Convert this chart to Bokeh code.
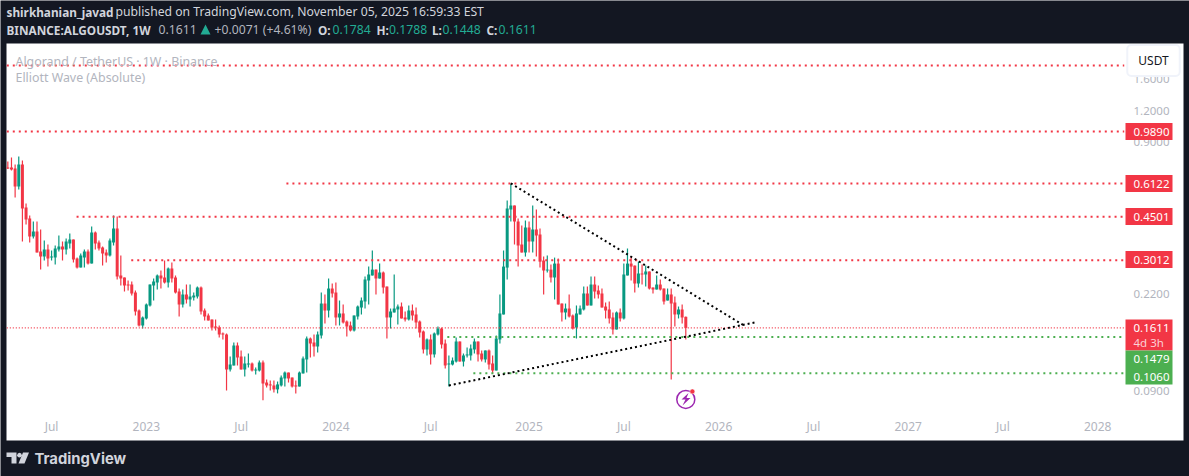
import pandas as pd
from bokeh.embed import file_html
from bokeh.models import (BoxAnnotation, ColumnDataSource, FixedTicker, Label, LinearAxis, LogAxis,
                          PolyAnnotation, PrintfTickFormatter, Range1d)
from bokeh.plotting import figure
from bokeh.resources import INLINE

# weekly ALGOUSDT candles
opens = [.7091,.7091,.7026,.5951,.729,.4902,.4427,.3747,.3924,.326,
         .3113,.3322,.3084,.3084,.3322,.3415,.3322,.3511,.3644,.3056,
         .2812,.3084,.326,.2918,.3888,.3544,.3384,.323,.3142,.3544,
         .4035,.2614,.2566,.2404,.2404,.2233,.1891,.1647,.1757,.1981,
         .2382,.2449,.2614,.2566,.2449,.2786,.2566,.2254,.1999,.2193,
         .2094,.2133,.2152,.2339,.1891,.1806,.1741,.1631,.1616,.1529,
         .1515,.1096,.1138,.1369,.1237,.1096,.1148,.1159,.1086,.1086,
         .117,.0972,.0955,.0946,.0912,.0946,.1009,.1066,.1018,.0946,
         .0937,.1057,.1203,.146,.1407,.1356,.1501,.2017,.1891,.2317,
         .2233,.1773,.184,.1708,.1647,.1572,.1789,.1944,.2055,.2495,
         .2614,.276,.2542,.2687,.236,.1773,.1857,.1909,.1962,.1773,
         .1741,.1891,.1823,.1708,.1558,.1319,.1447,.126,.1515,.1601,
         .1394,.1148,.1148,.118,.142,.118,.1248,.1248,.1319,.142,
         .1271,.1203,.1307,.1159,.1086,.1447,.1823,.2812,.4812,.4994,
         .4305,.3479,.323,.4073,.3577,.3998,.3817,.30,.2737,.276,
         .2566,.2918,.2017,.1857,.1926,.1806,.1616,.1823,.1909,.2213,
         .1981,.2404,.2275,.2213,.1962,.1909,.1773,.1587,.1857,.1757,
         .2614,.2918,.2864,.2427,.2662,.2638,.2712,.2339,.2296,.2404,
         .2317,.2074,.2193,.2036,.1823,.1909,.1784]
closes = [.7026,.6961,.5951,.729,.4857,.4386,.3747,.3924,.323,.3113,
          .3322,.3056,.3113,.3353,.3415,.3322,.3577,.3644,.3028,.2812,
          .3142,.326,.2918,.3888,.3511,.3353,.32,.3142,.361,.4035,
          .259,.2542,.2382,.2382,.2213,.1874,.1647,.1773,.1999,.2404,
          .2472,.2614,.2542,.2449,.2786,.2542,.2233,.1999,.2193,.2094,
          .2152,.2172,.2339,.1874,.1789,.1724,.1616,.1616,.1515,.1515,
          .1096,.1148,.1369,.1225,.1096,.1159,.1159,.1086,.1096,.117,
          .0963,.0946,.0946,.0912,.0955,.1018,.1066,.1009,.0937,.0937,
          .1066,.1214,.146,.1394,.1356,.1515,.2017,.1891,.2317,.2213,
          .1773,.184,.1693,.1631,.1572,.1806,.1962,.2074,.2519,.2638,
          .276,.2542,.2687,.2339,.1773,.1874,.1926,.1962,.1757,.1741,
          .1891,.1806,.1693,.1543,.1319,.1447,.126,.1529,.1601,.1381,
          .1138,.1159,.1191,.142,.118,.1248,.126,.1331,.142,.126,
          .1203,.1307,.1148,.1086,.146,.184,.2838,.4857,.4994,.4305,
          .3447,.323,.4073,.3577,.3998,.3782,.2972,.2737,.276,.2566,
          .2918,.1999,.1857,.1926,.1789,.1601,.184,.1926,.2213,.1981,
          .2404,.2254,.2193,.1944,.1891,.1757,.1587,.1857,.1757,.2638,
          .2918,.2838,.2427,.2662,.2638,.2712,.2317,.2296,.2404,.2296,
          .2055,.2193,.2017,.1823,.1909,.1773,.1611]
highs = [.7495,.778,.729,.7852,.7565,.5087,.4551,.4305,.4305,.3998,
         .361,.3479,.329,.3447,.3782,.3577,.3678,.3852,.3644,.3084,
         .32,.3322,.3322,.4111,.3924,.361,.3415,.3322,.3678,.4551,
         .4509,.3142,.2566,.2495,.2472,.2275,.1909,.1789,.2017,.2404,
         .2542,.2638,.2737,.30,.2812,.2945,.2614,.2317,.2296,.2404,
         .2404,.2233,.236,.236,.1926,.184,.1741,.1741,.1647,.1543,
         .1529,.1237,.1407,.1407,.1307,.1237,.1271,.117,.1117,.1191,
         .1191,.0999,.099,.099,.0981,.1037,.1076,.1066,.1018,.099,
         .1076,.1237,.1487,.1474,.1515,.1558,.2233,.2193,.2542,.2427,
         .2449,.2074,.1999,.1724,.1708,.1806,.1981,.2133,.259,.2838,
         .329,.276,.2918,.2712,.236,.1926,.2638,.1999,.2036,.1874,
         .1981,.1999,.1944,.1724,.1572,.146,.1515,.1543,.1631,.1616,
         .1447,.1248,.1225,.1474,.142,.1271,.1344,.1381,.146,.142,
         .1307,.1307,.1319,.1248,.1501,.2193,.329,.523,.6122,.4994,
         .4427,.4149,.4345,.4305,.4994,.4812,.4035,.3113,.3142,.2891,
         .3084,.3056,.2017,.2017,.2193,.1823,.1981,.1981,.236,.236,
         .259,.259,.2382,.2317,.2036,.2055,.1857,.1874,.1926,.2918,
         .3353,.3113,.2864,.2972,.2891,.2864,.2712,.2339,.2614,.2519,
         .2317,.2317,.2317,.2152,.1962,.1999,.1788]
lows = [.70,.690,.5376,.5788,.3577,.4187,.3544,.3678,.323,.276,
        .30,.2838,.30,.2891,.326,.30,.3171,.3353,.2945,.2786,
        .2812,.2812,.2891,.2918,.3322,.329,.2864,.2945,.3113,.3447,
        .2519,.2382,.2254,.2275,.2172,.1806,.1631,.1601,.1741,.1962,
        .2074,.2296,.2317,.2427,.2339,.2449,.2213,.1789,.1944,.2017,
        .1962,.2074,.2113,.1823,.1724,.1724,.1572,.1572,.1474,.1447,
        .0903,.1076,.1138,.1138,.1096,.1028,.1117,.1076,.1047,.1076,
        .0825,.0929,.0903,.0887,.0879,.0937,.0937,.0972,.0929,.0879,
        .0937,.1057,.1066,.1225,.1237,.1283,.146,.1677,.1773,.2133,
        .1647,.1647,.1677,.1487,.1558,.1558,.1741,.1823,.1926,.1999,
        .2614,.2193,.2542,.2213,.146,.1601,.1857,.1662,.1757,.1708,
        .1724,.1724,.1601,.1474,.1271,.1248,.1148,.1225,.1501,.1331,
        .1107,.0937,.1138,.117,.118,.1127,.1225,.1191,.1271,.118,
        .118,.117,.1096,.1057,.1086,.1394,.1823,.2519,.4305,.3479,
        .2838,.323,.3113,.323,.323,.3113,.2812,.2193,.2687,.2449,
        .2094,.1999,.1708,.1741,.1773,.1587,.146,.1823,.1891,.1981,
        .1981,.2113,.2113,.1944,.1757,.1677,.1515,.1587,.1708,.1741,
        .2614,.2495,.2233,.2339,.2404,.236,.2296,.2213,.2296,.2275,
        .1999,.2074,.0999,.1631,.1757,.1677,.1448]

last_week = "2025-11-03"
last_price = 0.1611

# horizontal drawings
red_levels = [1.82, 0.9890, 0.6122, 0.4501, 0.3012]
red_starts = ["2022-04-09", "2022-04-09", "2023-09-28", "2022-08-21", "2022-12-04"]
green_levels = [0.1479, 0.1060]
green_starts = ["2024-08-02", "2024-09-21"]
level_end = "2028-02-23"

# trend lines
upper_dates = ["2024-12-02", "2026-02-26"]
upper_prices = [0.6122, 0.1631]
lower_dates = ["2024-08-05", "2026-03-17"]
lower_prices = [0.0946, 0.1695]

price_ticks = [1.6, 1.2, 0.9, 0.22, 0.09]
time_ticks = ["2022-07-04", "2023-01-02", "2023-07-03", "2024-01-01", "2024-07-01", "2025-01-06",
              "2025-07-07", "2026-01-05", "2026-07-06", "2027-01-04", "2027-07-05", "2028-01-03"]
time_labels = ["Jul", "2023", "Jul", "2024", "Jul", "2025", "Jul", "2026", "Jul", "2027", "Jul", "2028"]

tag_texts = ["0.9890", "0.6122", "0.4501", "0.3012", "0.1611"]
tag_centers = [131, 183, 216, 259, 327]
green_tag_texts = ["0.1479", "0.1060"]
green_tag_centers = [358, 376]

UP = "#089981"
DOWN = "#f23645"
GREEN = "#4caf50"
DARK = "#131722"
GREY = "#b2b5be"
FONT = "Noto Sans"
WEEK = 7 * 24 * 3600 * 1000.0
WEEK_PX = 3.645


def ms(d):
    return pd.Timestamp(d).value / 1e6


x_last = ms(last_week)
x_start = x_last - 685.3 / WEEK_PX * WEEK
x_end = x_last + (1189 - 685.3) / WEEK_PX * WEEK

# the frame fills the whole page, the white pane is a box under the candles
p = figure(width=1189, height=476, output_backend="svg", toolbar_location=None, y_axis_type="log",
           x_range=Range1d(x_start, x_end), y_range=Range1d(0.04078, 3.319),
           x_axis_location=None, y_axis_location=None,
           min_border_left=0, min_border_right=0, min_border_top=0, min_border_bottom=0,
           background_fill_color=DARK, border_fill_color=DARK, outline_line_color=None)
p.grid.visible = False


def sx(v):
    return v


def sy(v):
    return 476 - v


def text(s, x0, y0, color="#d1d4dc", size="12.2px", style="normal", font=FONT, **kw):
    p.add_layout(Label(x=sx(x0), y=sy(y0), x_units="screen", y_units="screen", text=s, text_color=color,
                       text_font=font, text_font_size=size, text_font_style=style, text_baseline="middle", **kw))


def box(x0, x1, y0, y1, color, level="annotation"):
    p.add_layout(BoxAnnotation(left=sx(x0), right=sx(x1), top=sy(y0), bottom=sy(y1), left_units="screen",
                               right_units="screen", top_units="screen", bottom_units="screen",
                               fill_color=color, fill_alpha=1, line_color=None, level=level))


def poly(xs, ys, color):
    p.add_layout(PolyAnnotation(xs=[sx(v) for v in xs], ys=[sy(v) for v in ys], xs_units="screen", ys_units="screen",
                                fill_color=color, fill_alpha=1, line_color=None))


box(6, 1183, 43, 440, "white", level="underlay")

n = len(closes)
x = [x_last - (n - 1 - i) * WEEK for i in range(n)]
colors = [UP if c >= o else DOWN for o, c in zip(opens, closes)]
source = ColumnDataSource(dict(x=x, high=highs, low=lows, top=[max(a) for a in zip(opens, closes)],
                               bottom=[min(a) for a in zip(opens, closes)], color=colors))
p.segment("x", "high", "x", "low", color="color", line_width=1.2, source=source)
p.vbar("x", width=0.82 * WEEK, top="top", bottom="bottom", fill_color="color", line_color=None, source=source)

# level lines
for level, start in zip(red_levels, red_starts):
    p.line([ms(start), ms(level_end)], [level, level], line_color=DOWN, line_width=2, line_dash=[2, 4])
for level, start in zip(green_levels, green_starts):
    p.line([ms(start), ms(level_end)], [level, level], line_color=GREEN, line_width=2, line_dash=[2, 4])
p.line([ms("2022-04-09"), ms(level_end)], [last_price, last_price], line_color=DOWN, line_width=1.3, line_dash=[1, 2])

p.line([ms(d) for d in upper_dates], upper_prices, line_color="black", line_width=2, line_dash=[2, 3])
p.line([ms(d) for d in lower_dates], lower_prices, line_color="black", line_width=2, line_dash=[2, 3])

# axes pinned inside the white pane, like the TradingView scales
yaxis = LogAxis(fixed_location=x_last + (1123 - 685.3) / WEEK_PX * WEEK, ticker=FixedTicker(ticks=price_ticks),
                formatter=PrintfTickFormatter(format="%.4f"), axis_line_color=None, major_tick_line_color=None,
                minor_tick_line_color=None, major_label_text_color=GREY, major_label_text_font=FONT,
                major_label_text_font_size="11.5px", major_label_standoff=4)
p.add_layout(yaxis, "right")

time_ms = [ms(d) for d in time_ticks]
xaxis = LinearAxis(fixed_location=0.0771, ticker=FixedTicker(ticks=time_ms),
                   major_label_overrides=dict(zip(time_ms, time_labels)), axis_line_color=None,
                   major_tick_line_color=None, minor_tick_line_color=None, major_label_text_color=GREY,
                   major_label_text_font=FONT, major_label_text_font_size="12px", major_label_standoff=4)
p.add_layout(xaxis, "below")

# header
text("shirkhanian_javad", 6, 11, style="bold", size="11.8px")
text("published on TradingView.com, November 05, 2025 16:59:33 EST", 115, 11)
text("BINANCE:ALGOUSDT, 1W", 6, 29, style="bold", size="11.8px")
text("0.1611", 158, 29, color=GREY)
poly([200, 210, 205], [34, 34, 24], "#22ab94")
text("+0.0071 (+4.61%)", 214, 29, color=GREY)
for lab, val, xa, xb in [("O:", "0.1784", 317.5, 332), ("H:", "0.1788", 376, 388.5),
                         ("L:", "0.1448", 431.5, 442), ("C:", "0.1611", 486, 498)]:
    text(lab, xa, 29, style="bold", size="11.8px")
    text(val, xb, 29, color="#22ab94")

# pane legend
text("Algorand / TetherUS · 1W · Binance", 15, 61, color=GREY, size="12.4px")
text("Elliott Wave (Absolute)", 15, 77, color=GREY, size="12.4px")

# price tags
for s, c in zip(tag_texts[:-1], tag_centers[:-1]):
    box(1125, 1172, c - 8.5, c + 8.5, DOWN)
    text(s, 1133, c, color="white", size="11.5px")
box(1125, 1172, 319, 350, DOWN)
text(tag_texts[-1], 1133, tag_centers[-1], color="white", size="11.5px")
text("4d 3h", 1133, 342, color="#fbd0d5", size="11.5px")
box(1125, 1172, 350, 384, GREEN)
for s, c in zip(green_tag_texts, green_tag_centers):
    text(s, 1133, c, color="white", size="11.5px")

# currency button
p.add_layout(Label(x=sx(1153), y=sy(60), x_units="screen", y_units="screen", text="USDT", text_color="#131722",
                   text_font=FONT, text_font_size="12px", text_align="center", text_baseline="middle",
                   background_fill_color="white", border_line_color="#f0f3fa", border_line_width=2,
                   padding=(11, 7), border_radius=4))

# flash icon under the last candles
p.scatter([x_last], [0.0831], marker="circle", size=18, fill_color=None, line_color="#9c27b0", line_width=1.5)
p.scatter([x_last + 1.8 * WEEK], [0.0895], marker="circle", size=5, fill_color=DOWN, line_color="white", line_width=0.5)
poly([688, 681, 685, 682, 690, 686], [392.5, 399, 399, 405, 397.5, 397.5], "#9c27b0")

# logo
poly([6, 16, 16, 11, 11, 6], [452, 452, 463, 463, 456.5, 456.5], "#d1d4dc")
poly([16.6, 17.3, 19, 20.7, 21.4, 20.7, 19, 17.3], [454.7, 453, 452.3, 453, 454.7, 456.4, 457.1, 456.4], "#d1d4dc")
poly([22.5, 28.5, 24, 18], [452, 452, 463, 463], "#d1d4dc")
text("TradingView", 34, 458, size="14.8px", style="bold", font="Inter")

open("out.html", "w").write(file_html(p, INLINE))
